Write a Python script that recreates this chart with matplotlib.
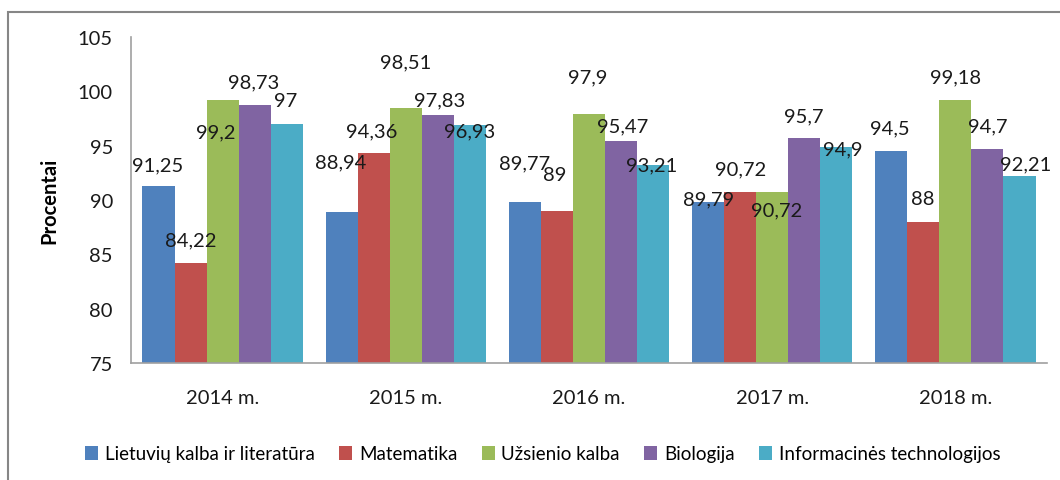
import matplotlib
matplotlib.use("Agg")
import matplotlib.pyplot as plt
from matplotlib.patches import Rectangle
import numpy as np

plt.rcParams['font.family'] = ['Lato', 'DejaVu Sans']

# duomenys
metai = ['2014 m.', '2015 m.', '2016 m.', '2017 m.', '2018 m.']
dalykai = ['Lietuvių kalba ir literatūra', 'Matematika', 'Užsienio kalba',
           'Biologija', 'Informacinės technologijos']
lietuviu = [91.25, 88.94, 89.77, 89.79, 94.5]
matematika = [84.22, 94.36, 89, 90.72, 88]
uzsienio = [99.2, 98.51, 97.9, 90.72, 99.18]
biologija = [98.73, 97.83, 95.47, 95.7, 94.7]
it = [97, 96.93, 93.21, 94.9, 92.21]

spalvos = ['#4F81BD', '#C0504D', '#9BBB59', '#8064A2', '#4BACC6']

# etikečių poslinkiai (pikseliais) nuo stulpelio viršaus, kaip originale
poslinkiai = [
    [(-1, 22), (-1, 50), (0, 40), (0, 3), (-1, 23)],
    [(0, 23), (-2, 22), (-2, 36), (0, 23), (-1, 23)],
    [(-7, -32), (0, 46), (-1, 37), (4, -18), (0, 23)],
    [(-1, 23), (2, 15), (2, 15), (-1, 22), (0, 23)],
    [(-1, 23), (0, -6), (-1, 0), (6, -2), (6, 12)],
]

def fmt(v):
    s = ('%.2f' % v).rstrip('0').rstrip('.')
    return s.replace('.', ',')

fig = plt.figure(figsize=(10.6, 4.81), dpi=100)
ax = fig.add_axes([131 / 1060, 1 - 364 / 481, 916 / 1060, 326 / 481])

serijos = [lietuviu, matematika, uzsienio, biologija, it]
x = np.arange(len(metai))
w = 0.175
for i, (vals, c) in enumerate(zip(serijos, spalvos)):
    pos = x + (i - 2) * w
    ax.bar(pos, [v - 75 for v in vals], w, bottom=75, color=c, label=dalykai[i])
    for j, v in enumerate(vals):
        dx, dy = poslinkiai[i][j]
        ax.annotate(fmt(v), (pos[j], v), xytext=(dx, dy), textcoords='offset pixels',
                    ha='center', va='center', fontsize=14.5, color='#1a1a1a')

ax.set_ylim(75, 105)
ax.set_xlim(-0.5, len(metai) - 0.5)
ax.set_yticks(range(75, 106, 5))
ax.set_xticks(x)
ax.set_xticklabels(metai)
ax.tick_params(axis='both', length=0, labelsize=14.5, colors='#1a1a1a')
ax.tick_params(axis='x', pad=19)
ax.tick_params(axis='y', pad=13)
for s in ['top', 'right']:
    ax.spines[s].set_visible(False)
for s in ['left', 'bottom']:
    ax.spines[s].set_color('#a0a0a0')
    ax.spines[s].set_linewidth(1.2)
ax.set_ylabel('Procentai', fontsize=14.5, fontweight='bold', labelpad=13)

fig.legend(loc='center', bbox_to_anchor=(0.512, 1 - 455 / 481), ncol=5,
           frameon=False, fontsize=13.5, handlelength=0.7, handleheight=0.7,
           handletextpad=0.35, columnspacing=1.3)

fig.patches.append(Rectangle((8 / 1060, -0.1), 1.1, 1 - 13 / 481 + 0.1,
                             transform=fig.transFigure, fill=False,
                             edgecolor='#868686', linewidth=1.5))

fig.savefig('out.png', dpi=100)
